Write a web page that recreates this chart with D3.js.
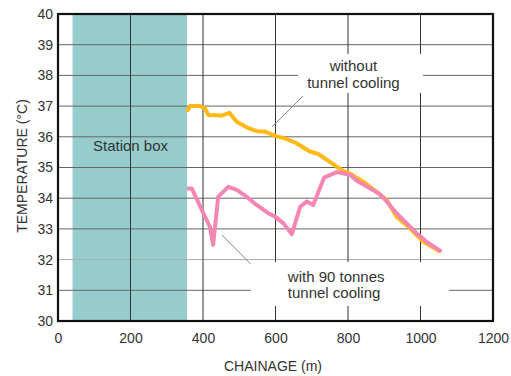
<!DOCTYPE html>
<html><head><meta charset="utf-8">
<script src="https://cdn.jsdelivr.net/npm/d3@7"></script>
<style>html,body{margin:0;padding:0;background:#fff;}svg{display:block;font-family:"Liberation Sans",Arial,Helvetica,sans-serif;}</style>
</head><body>
<svg id="c" width="511" height="376"></svg>
<script>
// ---- data ----
const xTicks = [0, 200, 400, 600, 800, 1000, 1200];
const yTicks = [30, 31, 32, 33, 34, 35, 36, 37, 38, 39, 40];
const stationBox = [40, 356];
const withoutChainage = [356, 364, 392, 405, 415, 451, 473, 493, 520, 552, 571, 599, 626, 658, 695, 718, 755, 787, 801, 842, 879, 907, 934, 971, 1008, 1054];
const withoutTemp =     [36.82, 37.0, 37.0, 36.93, 36.71, 36.69, 36.78, 36.49, 36.31, 36.17, 36.17, 36.03, 35.95, 35.79, 35.52, 35.44, 35.14, 34.88, 34.83, 34.54, 34.21, 33.94, 33.40, 33.02, 32.58, 32.26];
const coolingChainage = [356, 369, 401, 419, 428, 442, 470, 493, 520, 548, 580, 599, 622, 645, 668, 686, 704, 734, 769, 806, 828, 884, 902, 934, 962, 989, 1017, 1058];
const coolingTemp =     [34.32, 34.32, 33.51, 33.07, 32.48, 34.05, 34.37, 34.27, 34.05, 33.78, 33.51, 33.40, 33.18, 32.83, 33.72, 33.89, 33.78, 34.67, 34.85, 34.76, 34.54, 34.16, 33.96, 33.51, 33.18, 32.86, 32.58, 32.26];
const stationLabel = "Station box";
const withoutLabel = ["without", "tunnel cooling"];
const coolingLabel = ["with 90 tonnes", "tunnel cooling"];
const xTitle = "CHAINAGE (m)";
const yTitle = "TEMPERATURE (°C)";

// ---- drawing ----
const svg = d3.select("#c");
const x = d3.scaleLinear().domain([0, 1200]).range([58, 493]);
const y = d3.scaleLinear().domain([30, 40]).range([321, 14]);
const txt = "#333";

// station box
svg.append("rect")
  .attr("x", x(stationBox[0])).attr("y", y(40))
  .attr("width", x(stationBox[1]) - x(stationBox[0]))
  .attr("height", y(30) - y(40))
  .attr("fill", "#96cdcc");

// grid
svg.append("g").selectAll("line").data(yTicks.slice(1, -1)).join("line")
  .attr("x1", x(0)).attr("x2", x(1200))
  .attr("y1", d => y(d)).attr("y2", d => y(d))
  .attr("stroke", d => d === 32 ? "#aaa" : "#666").attr("stroke-width", 1);
svg.append("g").selectAll("line").data(xTicks.slice(1, -1)).join("line")
  .attr("y1", y(30)).attr("y2", y(40))
  .attr("x1", d => x(d)).attr("x2", d => x(d))
  .attr("stroke", "#333").attr("stroke-width", 1);

// label boxes (white, mask grid)
svg.append("rect").attr("x", x(662)).attr("y", y(38.70))
  .attr("width", x(1007) - x(662)).attr("height", y(37.43) - y(38.70)).attr("fill", "#fff");
svg.append("rect").attr("x", x(532)).attr("y", y(31.92))
  .attr("width", x(1079) - x(532)).attr("height", y(30.49) - y(31.92)).attr("fill", "#fff");

// station label
svg.append("text").attr("x", x(200)).attr("y", y(35.55))
  .attr("text-anchor", "middle").attr("font-size", 15).attr("fill", txt).text(stationLabel);

// leader lines
svg.append("line").attr("x1", x(676)).attr("y1", y(37.33)).attr("x2", x(590)).attr("y2", y(36.32))
  .attr("stroke", "#888").attr("stroke-width", 1);
svg.append("line").attr("x1", x(452)).attr("y1", y(32.80)).attr("x2", x(532)).attr("y2", y(31.85))
  .attr("stroke", "#888").attr("stroke-width", 1);

// series lines
const line = d3.line().x(d => x(d[0])).y(d => y(d[1])).curve(d3.curveLinear);
svg.append("path").datum(d3.zip(withoutChainage, withoutTemp))
  .attr("d", line).attr("fill", "none").attr("stroke", "#ffb915")
  .attr("stroke-width", 4).attr("stroke-linejoin", "round").attr("stroke-linecap", "butt");
svg.append("path").datum(d3.zip(coolingChainage, coolingTemp))
  .attr("d", line).attr("fill", "none").attr("stroke", "#f386b5")
  .attr("stroke-width", 4).attr("stroke-linejoin", "round").attr("stroke-linecap", "butt");

// annotation text
svg.append("g").selectAll("text").data(withoutLabel).join("text")
  .attr("x", x(815)).attr("y", (d, i) => y(38.14) + i * 17)
  .attr("text-anchor", "middle").attr("font-size", 15).attr("fill", txt).text(d => d);
svg.append("g").selectAll("text").data(coolingLabel).join("text")
  .attr("x", x(634)).attr("y", (d, i) => y(31.27) + i * 15.5)
  .attr("text-anchor", "start").attr("font-size", 15).attr("fill", txt).text(d => d);

// frame
svg.append("rect").attr("x", x(0)).attr("y", y(40))
  .attr("width", x(1200) - x(0)).attr("height", y(30) - y(40))
  .attr("fill", "none").attr("stroke", "#111").attr("stroke-width", 2.2);

// axes (tick labels only)
const xAxis = d3.axisBottom(x).tickValues(xTicks).tickFormat(d3.format("d")).tickSize(0).tickPadding(12);
const gx = svg.append("g").attr("transform", `translate(0,${y(30)})`).call(xAxis);
gx.select(".domain").remove();
gx.selectAll("text").attr("font-size", 14).attr("fill", txt).attr("font-family", null);

const yAxis = d3.axisLeft(y).tickValues(yTicks).tickFormat(d3.format("d")).tickSize(0).tickPadding(5);
const gy = svg.append("g").attr("transform", `translate(${x(0)},0)`).call(yAxis);
gy.select(".domain").remove();
gy.selectAll("text").attr("font-size", 14).attr("fill", txt).attr("font-family", null);

// titles
svg.append("text").attr("x", 273).attr("y", 371).attr("text-anchor", "middle")
  .attr("font-size", 14).attr("fill", txt).text(xTitle);
svg.append("text").attr("transform", "translate(27,166) rotate(-90)").attr("text-anchor", "middle")
  .attr("font-size", 14).attr("fill", txt).text(yTitle);
</script>
</body></html>
